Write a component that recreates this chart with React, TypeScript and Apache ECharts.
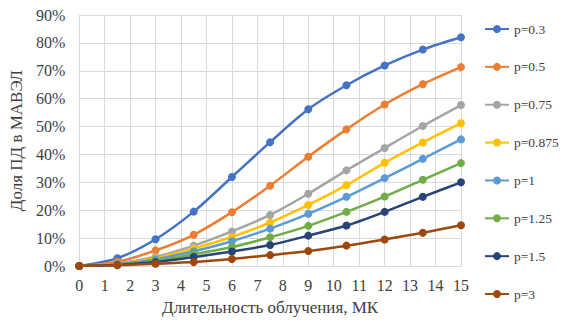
import React, { useEffect, useRef } from "react";
import * as echarts from "echarts";

const xValues = [0, 1.5, 3, 4.5, 6, 7.5, 9, 10.5, 12, 13.5, 15];
const seriesNames = ["p=0.3", "p=0.5", "p=0.75", "p=0.875", "p=1", "p=1.25", "p=1.5", "p=3"];
const seriesColors = ["#4472C4", "#ED7D31", "#A5A5A5", "#FFC000", "#5B9BD5", "#70AD47", "#264478", "#9E480E"];
const p03 = [0, 2.8, 9.6, 19.5, 31.9, 44.4, 56.2, 64.8, 71.9, 77.6, 82.0];
const p05 = [0, 1.5, 5.6, 11.2, 19.3, 28.8, 39.2, 49.0, 57.9, 65.2, 71.3];
const p075 = [0, 0.9, 3.3, 7.3, 12.4, 18.3, 25.9, 34.3, 42.3, 50.2, 57.7];
const p0875 = [0, 0.8, 2.8, 6.3, 10.4, 15.6, 21.9, 29.0, 37.0, 44.3, 51.2];
const p1 = [0, 0.7, 2.4, 5.3, 8.9, 13.4, 18.7, 24.8, 31.5, 38.4, 45.4];
const p125 = [0, 0.5, 1.9, 4.2, 6.8, 10.3, 14.4, 19.4, 24.9, 30.9, 36.9];
const p15 = [0, 0.4, 1.4, 3.2, 5.2, 7.5, 10.9, 14.5, 19.4, 24.8, 30.0];
const p3 = [0, 0.3, 0.8, 1.4, 2.5, 3.9, 5.4, 7.3, 9.5, 11.9, 14.6];
const seriesValues = [p03, p05, p075, p0875, p1, p125, p15, p3];

const FONT = "Liberation Serif";
const TEXT = "#404040";

export default function App() {
  const ref = useRef<HTMLDivElement>(null);
  useEffect(() => {
    if (!ref.current) return;
    const chart = echarts.init(ref.current, undefined, { renderer: "svg" });
    chart.setOption({
      animation: false,
      textStyle: { fontFamily: FONT, color: TEXT },
      grid: { left: 78, right: 100, top: 15, bottom: 50, containLabel: false },
      legend: {
        orient: "vertical",
        left: 479,
        top: 17,
        itemWidth: 24,
        itemHeight: 10,
        itemGap: 23.86,
        textStyle: { fontFamily: FONT, fontSize: 13.5, lineHeight: 14, color: TEXT },
        data: seriesNames,
      },
      xAxis: {
        type: "value",
        min: 0,
        max: 15,
        interval: 1,
        name: "Длительность облучения, МК",
        nameLocation: "middle",
        nameGap: 33,
        nameTextStyle: { fontFamily: FONT, fontSize: 17, color: TEXT },
        axisLine: { lineStyle: { color: "#d9d9d9" } },
        axisTick: { show: false },
        axisLabel: { fontFamily: FONT, fontSize: 16, color: TEXT, margin: 11 },
        splitLine: { show: true, lineStyle: { color: "#d9d9d9" } },
      },
      yAxis: {
        type: "value",
        min: 0,
        max: 90,
        interval: 10,
        name: "Доля ПД в МАВЭЛ",
        nameLocation: "middle",
        nameGap: 50,
        nameTextStyle: { fontFamily: FONT, fontSize: 17, color: TEXT },
        axisLine: { show: false },
        axisTick: { show: false },
        axisLabel: { fontFamily: FONT, fontSize: 16, color: TEXT, margin: 14, formatter: "{value}%" },
        splitLine: { show: true, lineStyle: { color: "#d9d9d9" } },
      },
      series: seriesNames.map((name, i) => ({
        name,
        type: "line",
        smooth: 0.3,
        symbol: "circle",
        symbolSize: 8,
        color: seriesColors[i],
        lineStyle: { width: 2.5, color: seriesColors[i] },
        itemStyle: { color: seriesColors[i] },
        data: xValues.map((x, j) => [x, seriesValues[i][j]]),
      })),
    });
    return () => chart.dispose();
  }, []);
  return <div ref={ref} style={{ position: "absolute", left: 0, top: 0, width: 561, height: 321 }} />;
}
